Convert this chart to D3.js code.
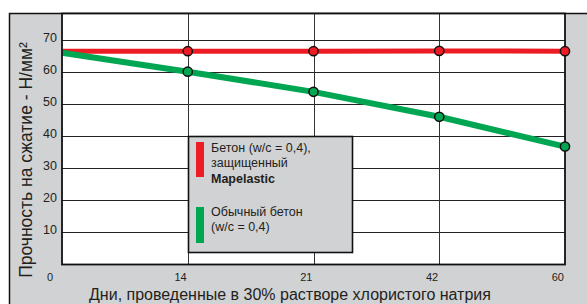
<!DOCTYPE html>
<html>
<head>
<meta charset="utf-8">
<script src="https://cdn.jsdelivr.net/npm/d3@7"></script>
<style>
  body { margin: 0; background: #fff; }
  text { font-family: "Liberation Sans", Arial, sans-serif; }
</style>
</head>
<body>
<svg id="chart" width="587" height="304"></svg>
<script>
// data
let days = ["0", "14", "21", "42", "60"];
let mapelastic = [66.5, 66.5, 66.5, 66.6, 66.5];
let ordinary = [66.0, 60.1, 53.8, 46.0, 36.7];
let yTicks = [10, 20, 30, 40, 50, 60, 70];
let legendRed = ["Бетон (w/c = 0,4),", "защищенный", "Mapelastic"];
let legendGreen = ["Обычный бетон", "(w/c = 0,4)"];

let svg = d3.select("#chart"),
    grey = "#d1d2d4",
    red = "#ed1c24",
    green = "#00a651",
    plot = {left: 62, right: 565, top: 13, bottom: 264};

// scales
let x = d3.scalePoint().domain(days).range([plot.left, plot.right]),
    y = d3.scaleLinear().domain([0, 70]).range([plot.bottom, 40]);

// grey frame
svg.append("rect")
    .attr("x", 9.5).attr("y", 13.5)
    .attr("width", 620).attr("height", 320)
    .style("fill", grey).style("stroke", "#111").style("stroke-width", 1.5);

// white plot area
svg.append("rect")
    .attr("x", plot.left).attr("y", plot.top)
    .attr("width", plot.right - plot.left).attr("height", plot.bottom - plot.top)
    .style("fill", "#fff");

// horizontal grid
svg.append("g").selectAll("line")
    .data(yTicks).enter().append("line")
    .attr("x1", plot.left).attr("x2", plot.right)
    .attr("y1", d => Math.round(y(d)) + 0.5).attr("y2", d => Math.round(y(d)) + 0.5)
    .style("stroke", "#222").style("stroke-width", 1);

// vertical grid
svg.append("g").selectAll("line")
    .data(days.slice(1, -1)).enter().append("line")
    .attr("x1", d => Math.round(x(d)) + 0.5).attr("x2", d => Math.round(x(d)) + 0.5)
    .attr("y1", plot.top).attr("y2", plot.bottom)
    .style("stroke", "#333").style("stroke-width", 1);

// y tick labels
svg.append("g").selectAll("text")
    .data(yTicks).enter().append("text")
    .attr("x", 57).attr("y", d => y(d) + 2)
    .attr("text-anchor", "end")
    .style("font-size", "12.5px").style("fill", "#231f20")
    .text(d => d);

// x tick labels
svg.append("g").selectAll("text")
    .data(days).enter().append("text")
    .attr("x", (d, i) => x(d) - (i === 0 ? 9 : 1))
    .attr("y", 281)
    .attr("text-anchor", "end")
    .style("font-size", "11px").style("fill", "#231f20")
    .text(d => d);

// lines
let line = d3.line().x(d => x(d[0])).y(d => y(d[1]));
let series = [
  {vals: mapelastic, color: red, w: 5},
  {vals: ordinary, color: green, w: 6}
];
series.forEach(function(s) {
  let pts = days.map((d, i) => [d, s.vals[i]]);
  svg.append("path")
      .datum(pts)
      .attr("d", line)
      .style("fill", "none")
      .style("stroke", s.color)
      .style("stroke-width", s.w);
});

// plot border
svg.append("rect")
    .attr("x", plot.left).attr("y", plot.top + 0.5)
    .attr("width", plot.right - plot.left).attr("height", plot.bottom - plot.top)
    .style("fill", "none").style("stroke", "#111").style("stroke-width", 1.8);

// markers (not at day 0)
series.forEach(function(s) {
  svg.append("g").selectAll("circle")
      .data(days.slice(1).map((d, i) => [d, s.vals[i + 1]]))
      .enter().append("circle")
      .attr("cx", d => x(d[0])).attr("cy", d => y(d[1]))
      .attr("r", 4.6)
      .style("fill", s.color)
      .style("stroke", "#111").style("stroke-width", 1.5);
});

// legend
let legend = svg.append("g").attr("class", "legend");
legend.append("rect")
    .attr("x", 188.5).attr("y", 136.5).attr("width", 164).attr("height", 116)
    .style("fill", grey).style("stroke", "#111").style("stroke-width", 1.6);
legend.append("rect")
    .attr("x", 196).attr("y", 142).attr("width", 8).attr("height", 35)
    .style("fill", red);
legend.append("rect")
    .attr("x", 196).attr("y", 207).attr("width", 8).attr("height", 36)
    .style("fill", green);
legend.append("g").selectAll("text")
    .data(legendRed).enter().append("text")
    .attr("x", 211).attr("y", (d, i) => 152 + i * 15.3)
    .style("font-size", "12.5px")
    .style("font-weight", (d, i) => i === 2 ? "bold" : "normal")
    .style("fill", "#231f20")
    .text(d => d);
legend.append("g").selectAll("text")
    .data(legendGreen).enter().append("text")
    .attr("x", 211).attr("y", (d, i) => 216 + i * 15)
    .style("font-size", "12.5px")
    .style("fill", "#231f20")
    .text(d => d);

// axis titles
svg.append("text")
    .attr("transform", "translate(32,160) rotate(-90)")
    .attr("text-anchor", "middle")
    .style("font-size", "17.5px").style("fill", "#231f20")
    .text("Прочность на сжатие - Н/мм²");
svg.append("text")
    .attr("x", 290).attr("y", 300)
    .attr("text-anchor", "middle")
    .style("font-size", "16px").style("fill", "#231f20")
    .text("Дни, проведенные в 30% растворе хлористого натрия");
</script>
</body>
</html>
